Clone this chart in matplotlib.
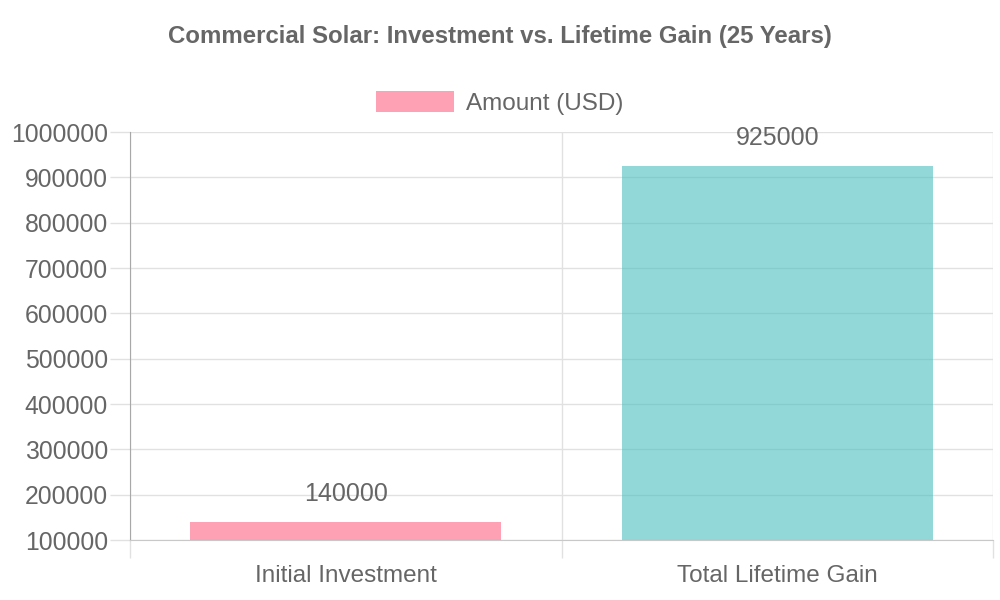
import matplotlib.pyplot as plt
from matplotlib.ticker import FixedLocator

# data
categories = ["Initial Investment", "Total Lifetime Gain"]
amounts = [140000, 925000]
bar_colors = [(1.0, 0.39, 0.52, 0.6), (0.29, 0.75, 0.75, 0.6)]
y_ticks = [100000, 200000, 300000, 400000, 500000, 600000, 700000, 800000, 900000, 1000000]

plt.rcParams['font.family'] = ['Liberation Sans', 'DejaVu Sans']
text_col = '#666666'
grid_col = '#e1e1e1'

fig = plt.figure(figsize=(10, 6), dpi=100)
ax = fig.add_axes([0.13, 0.1, 0.863, 0.68])

x = list(range(len(categories)))
bars = ax.bar(x, amounts, width=0.72, color=bar_colors, zorder=2)

ax.set_xlim(-0.5, len(categories) - 0.5)
ax.set_ylim(y_ticks[0], y_ticks[-1])
ax.set_yticks(y_ticks)
ax.set_yticklabels([str(v) for v in y_ticks])
ax.set_xticks(x)
ax.set_xticklabels(categories)
ax.xaxis.set_minor_locator(FixedLocator([i - 0.5 for i in range(len(categories) + 1)]))

ax.grid(axis='y', color=grid_col, linewidth=1, zorder=0)
ax.grid(axis='x', which='minor', color=grid_col, linewidth=1, zorder=0)
ax.set_axisbelow(True)

ax.tick_params(axis='y', length=14.4, color=grid_col, width=1, pad=1.5,
               labelsize=17.8, labelcolor=text_col)
ax.tick_params(axis='x', which='major', length=0, pad=18, labelsize=17.5, labelcolor=text_col)
ax.tick_params(axis='x', which='minor', length=13, color=grid_col, width=1)

for s in ['top', 'right']:
    ax.spines[s].set_visible(False)
ax.spines['left'].set_color('#a8a8a8')
ax.spines['bottom'].set_color('#c8c8c8')

# value labels above each bar
for b, v in zip(bars, amounts):
    ax.annotate(str(v), (b.get_x() + b.get_width() / 2, v), xytext=(0, 20),
                textcoords='offset points', ha='center', va='center',
                fontsize=18, color=text_col)

fig.text(0.5, 0.94, "Commercial Solar: Investment vs. Lifetime Gain (25 Years)",
         ha='center', va='center', fontsize=17.3, fontweight='bold', color=text_col)

leg = fig.legend([bars[0]], ["Amount (USD)"], loc='center', bbox_to_anchor=(0.5, 0.828),
                 frameon=False, fontsize=17.5, handlelength=3.2, handleheight=0.9,
                 handletextpad=0.5, labelcolor=text_col)

plt.savefig('out.png', dpi=100)
